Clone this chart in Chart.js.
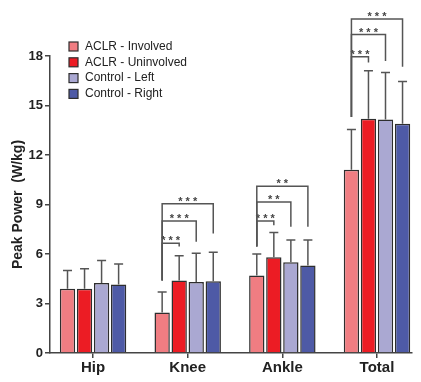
<!DOCTYPE html>
<html><head><meta charset="utf-8">
<script src="https://cdn.jsdelivr.net/npm/chart.js@4.4.1/dist/chart.umd.min.js"></script>
<style>html,body{margin:0;padding:0;background:#fff}#wrap{width:421px;height:382px}</style>
</head><body><div id="wrap"><canvas id="c" width="421" height="382"></canvas></div>
<script>
const categories = ["Hip", "Knee", "Ankle", "Total"];
const seriesNames = ["ACLR - Involved", "ACLR - Uninvolved", "Control - Left", "Control - Right"];
const aclrInvolved   = [3.9, 2.45, 4.7, 11.1];
const aclrUninvolved = [3.9, 4.4, 5.8, 14.2];
const controlLeft    = [4.25, 4.3, 5.5, 14.15];
const controlRight   = [4.15, 4.35, 5.3, 13.9];
const sdInvolved   = [1.1, 1.25, 1.3, 2.45];
const sdUninvolved = [1.2, 1.5, 1.5, 2.9];
const sdLeft       = [1.35, 1.75, 1.35, 2.85];
const sdRight      = [1.25, 1.75, 1.55, 2.55];
const yTicks = [0, 3, 6, 9, 12, 15, 18];
// significance brackets: category, from series, to series, label, level, left foot, right foot (W/kg)
const brackets = [
  [1, 0, 1, "***", 6.65, 4.4, 6.45],
  [1, 0, 2, "***", 8.0, 4.4, 6.75],
  [1, 0, 3, "***", 9.05, 4.4, 7.25],
  [2, 0, 1, "***", 8.0, 6.45, 7.75],
  [2, 0, 2, "**", 9.15, 6.45, 7.65],
  [2, 0, 3, "**", 10.1, 6.45, 7.65],
  [3, 0, 1, "***", 17.95, 14.3, 17.6],
  [3, 0, 2, "***", 19.3, 14.3, 17.7],
  [3, 0, 3, "***", 20.25, 14.3, 17.35]
];

const means = [aclrInvolved, aclrUninvolved, controlLeft, controlRight];
const sds = [sdInvolved, sdUninvolved, sdLeft, sdRight];
const colors = ["#F07D82", "#EC1C24", "#AAA8D2", "#4E5AA6"];
const FONT = "'Liberation Sans', Arial, sans-serif";

const datasets = means.map((arr, s) => ({
  label: seriesNames[s],
  data: arr.map((v, i) => ({x: i, y: v})),
  backgroundColor: colors[s],
  borderColor: "#2e2e2e",
  borderWidth: 1.5,
  categoryPercentage: 0.72,
  barPercentage: 0.9
}));

const errorBars = {
  id: "errorBars",
  afterDatasetsDraw(chart) {
    const ctx = chart.ctx, y = chart.scales.y;
    ctx.save();
    ctx.strokeStyle = "#555";
    ctx.lineWidth = 1.5;
    chart.data.datasets.forEach((ds, s) => {
      const meta = chart.getDatasetMeta(s);
      meta.data.forEach((bar, i) => {
        const top = y.getPixelForValue(means[s][i] + sds[s][i]);
        ctx.beginPath();
        ctx.moveTo(bar.x, bar.y);
        ctx.lineTo(bar.x, top);
        ctx.moveTo(bar.x - 4.5, top);
        ctx.lineTo(bar.x + 4.5, top);
        ctx.stroke();
      });
    });
    ctx.restore();
  }
};

const sigPlugin = {
  id: "sig",
  afterDatasetsDraw(chart) {
    const ctx = chart.ctx, y = chart.scales.y;
    ctx.save();
    ctx.strokeStyle = "#555";
    ctx.lineWidth = 1.5;
    ctx.fillStyle = "#444";
    ctx.font = "bold 11px " + FONT;
    ctx.textAlign = "center";
    ctx.textBaseline = "alphabetic";
    brackets.forEach(([c, a, b, lab, lvl, lf, rf]) => {
      const xa = chart.getDatasetMeta(a).data[c].x;
      const xb = chart.getDatasetMeta(b).data[c].x;
      const yl = y.getPixelForValue(lvl);
      ctx.beginPath();
      ctx.moveTo(xa, y.getPixelForValue(lf));
      ctx.lineTo(xa, yl);
      ctx.lineTo(xb, yl);
      ctx.lineTo(xb, y.getPixelForValue(rf));
      ctx.stroke();
      ctx.fillText(lab.split("").join(" "), (xa + xb) / 2, yl + 1);
    });
    ctx.restore();
  }
};

const legendPlugin = {
  id: "customLegend",
  afterDraw(chart) {
    const ctx = chart.ctx;
    ctx.save();
    ctx.font = "12px " + FONT;
    ctx.textBaseline = "middle";
    const x0 = 69, y0 = 46.5, step = 15.8;
    seriesNames.forEach((n, s) => {
      const yy = y0 + s * step;
      ctx.fillStyle = colors[s];
      ctx.fillRect(x0, yy - 4.5, 9, 9);
      ctx.strokeStyle = "#2e2e2e";
      ctx.lineWidth = 1.2;
      ctx.strokeRect(x0, yy - 4.5, 9, 9);
      ctx.fillStyle = "#222";
      ctx.fillText(n, x0 + 16, yy);
    });
    ctx.restore();
  }
};

new Chart(document.getElementById("c"), {
  type: "bar",
  data: { datasets },
  options: {
    responsive: false,
    animation: false,
    devicePixelRatio: 1,
    layout: { padding: { top: 56, right: 9, left: 0, bottom: 0 } },
    plugins: { legend: { display: false }, tooltip: { enabled: false } },
    scales: {
      x: {
        type: "linear",
        offset: false,
        bounds: "data",
        min: -0.455,
        max: 3.37,
        afterFit(s) { s.height = 29; },
        afterBuildTicks(s) { s.ticks = categories.map((_, i) => ({ value: i })); },
        ticks: {
          includeBounds: false,
          callback: (v) => categories[v] ?? "",
          font: { family: FONT, size: 15, weight: "bold" },
          color: "#222",
          padding: 1,
          maxRotation: 0,
          autoSkip: false
        },
        grid: { offset: false, drawOnChartArea: false, drawTicks: true, tickLength: 5, color: "#444", lineWidth: 1.5 },
        border: { color: "#444", width: 1.5 }
      },
      y: {
        min: 0, max: 18,
        afterFit(s) { s.width = 50; },
        afterBuildTicks(s) { s.ticks = yTicks.map(v => ({ value: v })); },
        ticks: {
          font: { family: FONT, size: 13, weight: "bold" },
          color: "#222",
          padding: 2
        },
        grid: { drawOnChartArea: false, drawTicks: true, tickLength: 5, color: "#444", lineWidth: 1.5 },
        border: { color: "#444", width: 1.5 },
        title: {
          display: true,
          text: "Peak Power  (W/kg)",
          font: { family: FONT, size: 14, weight: "bold" },
          color: "#222",
          padding: { top: 10, bottom: 0 }
        }
      }
    }
  },
  plugins: [errorBars, sigPlugin, legendPlugin]
});
</script>
</body></html>
